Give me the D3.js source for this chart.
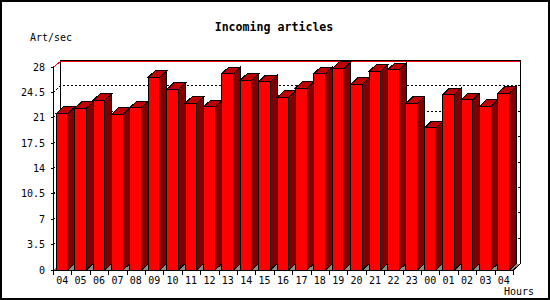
<!DOCTYPE html>
<html>
<head>
<meta charset="utf-8">
<script src="https://cdn.jsdelivr.net/npm/d3@7"></script>
<style>
  body { margin: 0; background: #fff; }
  svg { display: block; }
  text { font-family: "DejaVu Sans Mono", monospace; font-size: 10px; fill: #000; }
  .title { font-weight: bold; font-size: 11.6px; }
</style>
</head>
<body>
<svg width="550" height="300"></svg>
<script>
const hours = ["04", "05", "06", "07", "08", "09", "10", "11", "12", "13", "14", "15", "16",
    "17", "18", "19", "20", "21", "22", "23", "00", "01", "02", "03", "04"];
const artPerSec = [21.6, 22.3, 23.4, 21.5, 22.4, 26.6, 24.9, 23.0, 22.5, 27.1, 26.2, 26.0, 23.8,
    25.1, 27.1, 27.8, 25.6, 27.4, 27.6, 23.0, 19.6, 24.2, 23.5, 22.6, 24.4];
const yTicks = [0, 3.5, 7, 10.5, 14, 17.5, 21, 24.5, 28];

const svg = d3.select("svg");
const width = +svg.attr("width");
const height = +svg.attr("height");

// 3d offset of the back wall
const dx = 7;
const dy = 6.5;

const xScale = d3.scaleBand()
    .domain(d3.range(hours.length))
    .range([53.5, 513.5])
    .padding(0);
const yScale = d3.scaleLinear().domain([0, 28]).range([270, 67]);

const x0 = xScale.range()[0];
const x1 = xScale.range()[1];
const y0 = yScale(0);
const yTop = yScale(28);

const g = svg.append("g").attr("shape-rendering", "crispEdges");

// outer border
svg.append("rect")
    .attr("x", 1).attr("y", 1)
    .attr("width", width - 2).attr("height", height - 2)
    .attr("fill", "none")
    .attr("stroke", "#000")
    .attr("stroke-width", 2);

// floor
g.append("polygon")
    .attr("points", [[x0, y0], [x1, y0], [x1 + dx, y0 - dy], [x0 + dx, y0 - dy]].join(" "))
    .attr("fill", "#8c8c8c")
    .attr("stroke", "none");

// gridlines on left wall + back wall (dashed)
g.selectAll(".grid")
    .data(yTicks.filter(d => d > 0 && d < 28))
    .join("polyline")
    .attr("class", "grid")
    .attr("points", d => [[x0, yScale(d)], [x0 + dx, yScale(d) - dy], [x1 + dx, yScale(d) - dy]].join(" "))
    .attr("fill", "none")
    .attr("stroke", "#000")
    .attr("stroke-dasharray", "2,2");

// back wall frame
g.append("polyline")
    .attr("points", [[x0 + dx, y0 - dy], [x0 + dx, yTop - dy], [x1 + dx, yTop - dy], [x1 + dx, y0 - dy]].join(" "))
    .attr("fill", "none")
    .attr("stroke", "#000");

// red top line
g.append("polyline")
    .attr("points", [[x0, yTop], [x0 + dx, yTop - dy + 1], [x1 + dx - 1, yTop - dy + 1]].join(" "))
    .attr("fill", "none")
    .attr("stroke", "#f00");

// right ticks on back wall
g.selectAll(".rtick")
    .data(yTicks.filter(d => d > 0 && d < 28))
    .join("line")
    .attr("x1", x1 + dx - 3).attr("x2", x1 + dx)
    .attr("y1", d => yScale(d) - dy).attr("y2", d => yScale(d) - dy)
    .attr("stroke", "#000");

// bars
const frontW = xScale.bandwidth() * 0.63;
const off = 2.8;
const bars = g.selectAll(".bar")
    .data(artPerSec)
    .join("g")
    .attr("class", "bar");

bars.append("polygon")
    .attr("points", (d, i) => {
        const xr = xScale(i) + off + frontW;
        const yt = yScale(d);
        return [[xr, yt], [xr + dx, yt - dy], [xr + dx, y0 - dy], [xr, y0]].join(" ");
    })
    .attr("fill", "#800000")
    .attr("stroke", "#000");

bars.append("polygon")
    .attr("points", (d, i) => {
        const xl = xScale(i) + off;
        const xr = xl + frontW;
        const yt = yScale(d);
        return [[xl, yt], [xr, yt], [xr + dx, yt - dy], [xl + dx, yt - dy]].join(" ");
    })
    .attr("fill", "#c00000")
    .attr("stroke", "#000");

bars.append("rect")
    .attr("x", (d, i) => xScale(i) + off)
    .attr("y", d => yScale(d))
    .attr("width", frontW)
    .attr("height", d => y0 - yScale(d))
    .attr("fill", "#f00")
    .attr("stroke", "#000");

// floor right edge
g.append("line")
    .attr("x1", x1).attr("y1", y0)
    .attr("x2", x1 + dx).attr("y2", y0 - dy)
    .attr("stroke", "#000");

// front axes
g.append("line")
    .attr("x1", x0).attr("x2", x0)
    .attr("y1", yTop).attr("y2", y0)
    .attr("stroke", "#000");
g.append("line")
    .attr("x1", x0).attr("x2", x1)
    .attr("y1", y0).attr("y2", y0)
    .attr("stroke", "#000");

// y ticks + labels
g.selectAll(".ytick")
    .data(yTicks)
    .join("line")
    .attr("x1", x0 - 3).attr("x2", x0)
    .attr("y1", d => yScale(d)).attr("y2", d => yScale(d))
    .attr("stroke", "#000");
svg.selectAll(".ylab")
    .data(yTicks)
    .join("text")
    .attr("class", "ylab")
    .attr("x", 45)
    .attr("y", d => yScale(d) + 3.5)
    .attr("text-anchor", "end")
    .text(d => d);

// x ticks + labels
g.selectAll(".xtick")
    .data(d3.range(hours.length + 1))
    .join("line")
    .attr("x1", i => x0 + i * xScale.step()).attr("x2", i => x0 + i * xScale.step())
    .attr("y1", y0).attr("y2", y0 + 5)
    .attr("stroke", "#000");
svg.selectAll(".xlab")
    .data(hours)
    .join("text")
    .attr("class", "xlab")
    .attr("x", (d, i) => xScale(i) + xScale.bandwidth() / 2 - 0.5)
    .attr("y", 284)
    .attr("text-anchor", "middle")
    .text(d => d);

// titles
svg.append("text")
    .attr("class", "title")
    .attr("x", 274)
    .attr("y", 31)
    .attr("text-anchor", "middle")
    .text("Incoming articles");
svg.append("text")
    .attr("x", 30)
    .attr("y", 41)
    .text("Art/sec");
svg.append("text")
    .attr("x", 504)
    .attr("y", 295)
    .text("Hours");
</script>
</body>
</html>
